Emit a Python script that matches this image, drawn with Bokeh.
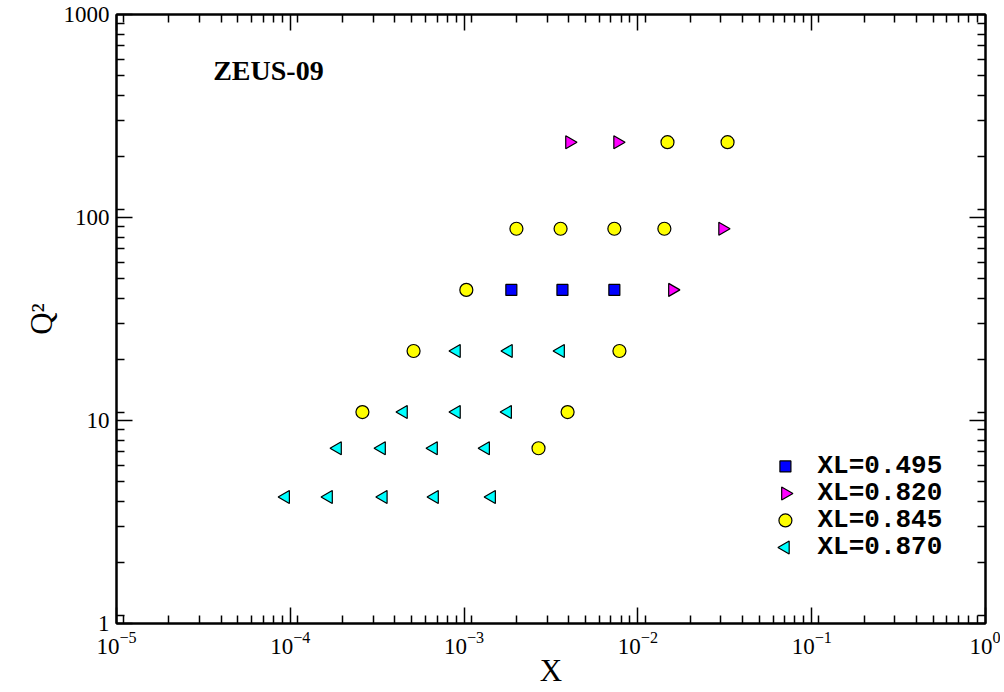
import math
from bokeh.plotting import figure
from bokeh.models import LogAxis, FixedTicker, PrintfTickFormatter, Label, Range1d
from bokeh.core.properties import value
from bokeh.embed import file_html
from bokeh.resources import INLINE

# ---- data ----
xl495_x = [1.87e-3, 3.68e-3, 7.32e-3]
xl495_q2 = [44, 44, 44]

xl820_x = [1.58e-2, 3.07e-2, 4.04e-3, 7.64e-3]
xl820_q2 = [44, 88, 235, 235]

xl845_x = [2.68e-3, 2.60e-4, 3.94e-3, 5.12e-4, 7.83e-3, 1.03e-3,
           2.00e-3, 3.59e-3, 7.32e-3, 1.42e-2, 1.48e-2, 3.28e-2]
xl845_q2 = [7.3, 11, 11, 22, 22, 44, 88, 88, 88, 88, 235, 235]

xl870_x = [9.4e-5, 1.66e-4, 3.43e-4, 6.76e-4, 1.44e-3,
           1.87e-4, 3.35e-4, 6.67e-4, 1.33e-3,
           4.48e-4, 9.04e-4, 1.78e-3,
           9.04e-4, 1.80e-3, 3.59e-3]
xl870_q2 = [4.2, 4.2, 4.2, 4.2, 4.2,
            7.3, 7.3, 7.3, 7.3,
            11, 11, 11,
            22, 22, 22]

series_labels = ["XL=0.495", "XL=0.820", "XL=0.845", "XL=0.870"]
x_major = [1e-5, 1e-4, 1e-3, 1e-2, 1e-1, 1e0]
y_major = [1, 10, 100, 1000]

# ---- figure ----
p = figure(width=1000, height=692, x_axis_type="log", y_axis_type="log",
           x_range=Range1d(1e-5, 1), y_range=Range1d(1, 1000),
           output_backend="svg", toolbar_location=None,
           min_border_left=116, min_border_right=15, min_border_top=14, min_border_bottom=69)
p.background_fill_color = "white"
p.border_fill_color = "white"
p.xgrid.visible = False
p.ygrid.visible = False
p.outline_line_color = "black"
p.outline_line_width = 2


def minors(lo, hi):
    out = []
    for k in range(lo, hi):
        base = 10.0 ** k
        out.append(1.1 * base)
        for m in range(2, 10):
            out.append(m * base)
    return out


def style(ax, labels=True):
    ax.axis_line_color = "black"
    ax.axis_line_width = 2
    ax.major_tick_line_color = "black"
    ax.minor_tick_line_color = "black"
    ax.major_tick_line_width = 1.5
    ax.minor_tick_line_width = 1.5
    ax.major_tick_in = 16
    ax.major_tick_out = 0
    ax.minor_tick_in = 8
    ax.minor_tick_out = 0
    ax.major_label_text_font = "Liberation Serif"
    ax.major_label_text_font_size = "23px" if labels else "2px"
    ax.major_label_text_color = "black" if labels else None
    ax.axis_label_text_font = "Liberation Serif"
    ax.axis_label_text_font_style = "normal"
    ax.axis_label_text_font_size = "31px"
    ax.axis_label_text_color = "black"

xa = p.xaxis[0]
xa.ticker = FixedTicker(ticks=x_major, minor_ticks=minors(-5, 0))
xa.axis_label = "X"
style(xa)
xa.major_label_standoff = 8
xa.axis_label_standoff = -4

ya = p.yaxis[0]
ya.ticker = FixedTicker(ticks=y_major, minor_ticks=minors(0, 3))
ya.formatter = PrintfTickFormatter(format="%d")
ya.axis_label = "Q²"
style(ya)
ya.major_label_standoff = 7
ya.axis_label_standoff = 2

top = LogAxis(ticker=FixedTicker(ticks=x_major, minor_ticks=minors(-5, 0)),
              formatter=PrintfTickFormatter(format=" "))
style(top, labels=False)
top.major_label_standoff = 0
p.add_layout(top, "above")

right = LogAxis(ticker=FixedTicker(ticks=y_major, minor_ticks=minors(0, 3)),
                formatter=PrintfTickFormatter(format=" "))
style(right, labels=False)
right.major_label_standoff = 0
p.add_layout(right, "right")

# ---- markers ----
styles = [
    dict(marker="square", size=11, fill_color="#0000ff", angle=0.0),
    dict(marker="triangle", size=13, fill_color="#ff00ff", angle=-math.pi / 2),
    dict(marker="circle", size=13, fill_color="#ffff00", angle=0.0),
    dict(marker="triangle", size=13, fill_color="#00ffff", angle=math.pi / 2),
]
series = [(xl495_x, xl495_q2), (xl820_x, xl820_q2), (xl845_x, xl845_q2), (xl870_x, xl870_q2)]
for (sx, sy), st in zip(series, styles):
    p.scatter(sx, sy, line_color="black", line_width=1.2, **st)

# ---- legend (drawn by hand so the triangles keep their direction) ----
leg_key_x = 0.0706      # legend key column (layout position)
leg_text_x = 0.108      # legend text column
leg_top = 5.94          # first row
leg_step = 10 ** (-27 / 203.0)   # one row down (~27 px)
for i, (lab, st) in enumerate(zip(series_labels, styles)):
    yy = leg_top * leg_step ** i
    p.scatter([leg_key_x], [yy], line_color="black", line_width=1.2, **st)
    p.text([leg_text_x], [yy], text=[lab], text_font=value("Liberation Mono"),
           text_font_style="bold", text_font_size="26px", text_color="black",
           text_baseline="middle", text_align="left")

title = Label(x=3.6e-5, y=530, text="ZEUS-09", text_font="Liberation Serif",
              text_font_style="bold", text_font_size="28px", text_color="black",
              text_baseline="middle", text_align="left")
p.add_layout(title)

open("out.html", "w").write(file_html(p, INLINE))
